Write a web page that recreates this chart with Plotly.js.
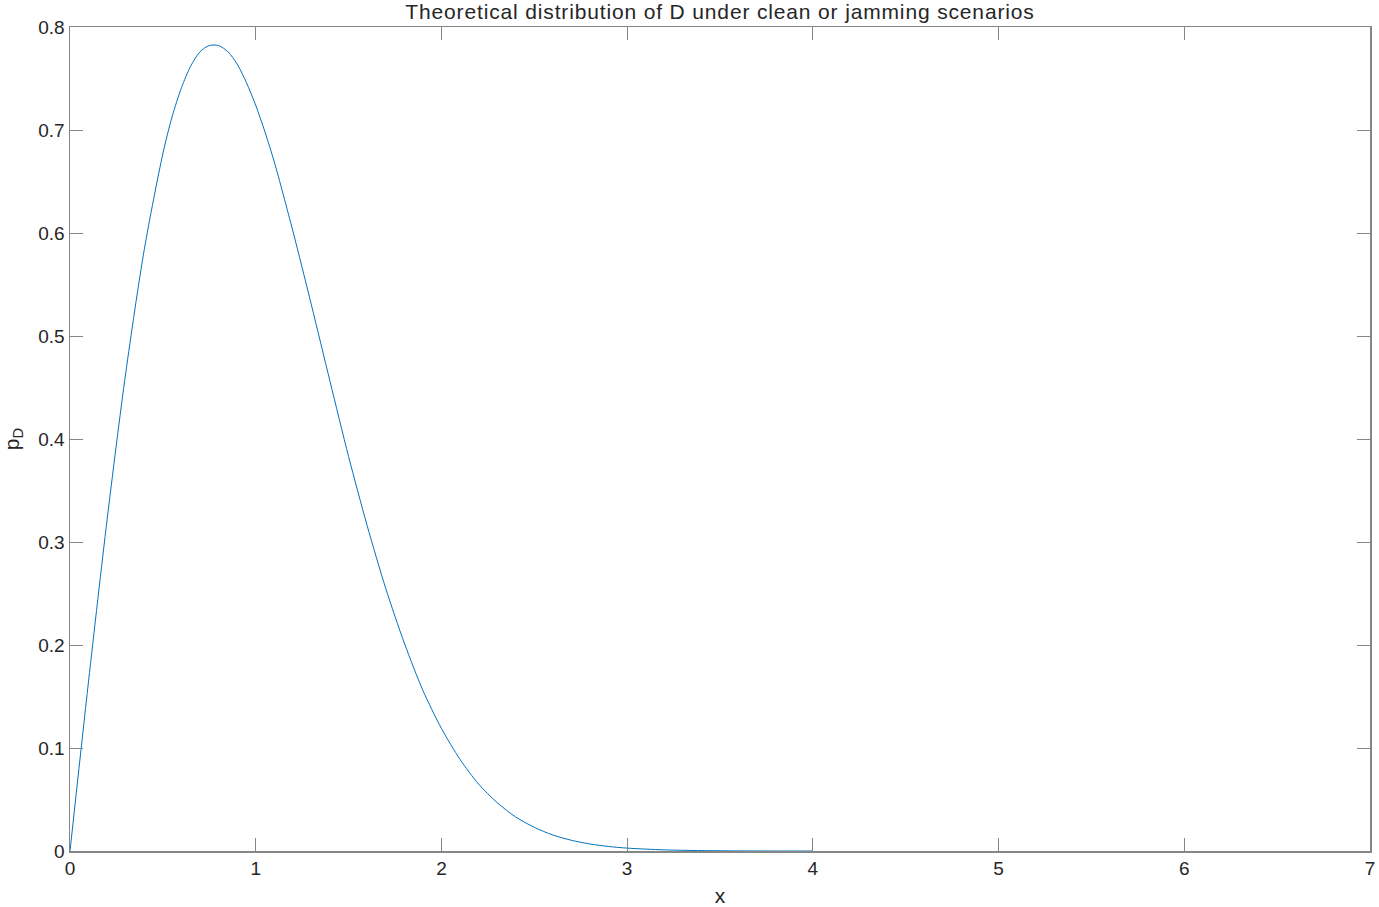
<!DOCTYPE html>
<html>
<head>
<meta charset="utf-8">
<script src="https://cdn.plot.ly/plotly-3.0.1.min.js"></script>
<style>html,body{margin:0;padding:0;background:#fff;}#chart{width:1379px;height:907px;}
.gtitle{letter-spacing:0.85px;}
</style>
</head>
<body>
<div id="chart"></div>
<script>
const xValues = [0, 0.1, 0.2, 0.3, 0.4, 0.5, 0.55, 0.6, 0.65, 0.7, 0.75, 0.8, 0.85, 0.9, 0.95, 1.0, 1.05, 1.1, 1.2, 1.3, 1.4, 1.5, 1.6, 1.7, 1.8, 1.9, 2.0, 2.1, 2.2, 2.3, 2.4, 2.5, 2.6, 2.7, 2.8, 2.9, 3.0, 3.2, 3.4, 3.6, 3.8, 4.0];
const pdValues = [0, 0.165, 0.322, 0.464, 0.584, 0.677, 0.713, 0.741, 0.762, 0.776, 0.782, 0.782, 0.776, 0.764, 0.746, 0.724, 0.698, 0.669, 0.602, 0.530, 0.456, 0.383, 0.316, 0.255, 0.202, 0.156, 0.119, 0.089, 0.065, 0.047, 0.033, 0.023, 0.0155, 0.0104, 0.0068, 0.0044, 0.0028, 0.0011, 0.0004, 0.0001, 0, 0];
const xTicks = [0, 1, 2, 3, 4, 5, 6, 7];
const yTicks = [0, 0.1, 0.2, 0.3, 0.4, 0.5, 0.6, 0.7, 0.8];

const axisColor = '#868686';
const font = {family: 'Liberation Sans, Arial, sans-serif', size: 19, color: '#262626'};

const trace = {
  x: xValues, y: pdValues, type: 'scatter', mode: 'lines',
  line: {color: '#0072BD', width: 1, shape: 'spline', smoothing: 0.8},
  hoverinfo: 'skip'
};

const layout = {
  width: 1379, height: 907,
  margin: {l: 70, r: 9, t: 27, b: 56},
  paper_bgcolor: '#fff', plot_bgcolor: '#fff',
  font: font,
  showlegend: false,
  title: {text: 'Theoretical distribution of D under clean or jamming scenarios', font: {family: font.family, size: 21, color: '#262626'}, xref: 'paper', x: 0.5, xanchor: 'center', yref: 'container', y: 0.987, yanchor: 'middle'},
  xaxis: {
    range: [0, 7], tickvals: xTicks, ticktext: xTicks.map(String),
    showgrid: false, zeroline: false, showline: true, linecolor: axisColor, linewidth: 1.5, mirror: 'ticks',
    ticks: 'inside', ticklen: 13, tickwidth: 1, tickcolor: axisColor,
    tickfont: font,
    title: {text: 'x', font: {family: font.family, size: 21, color: '#262626'}, standoff: 12}
  },
  yaxis: {
    range: [0, 0.8], tickvals: yTicks, ticktext: yTicks.map(String),
    showgrid: false, zeroline: false, showline: true, linecolor: axisColor, linewidth: 1.5, mirror: 'ticks',
    ticks: 'inside', ticklen: 13, tickwidth: 1, tickcolor: axisColor,
    tickfont: font,
    title: {text: 'p<sub>D</sub>', font: {family: font.family, size: 21, color: '#262626'}, standoff: 14}
  }
};

Plotly.newPlot('chart', [trace], layout, {displayModeBar: false, staticPlot: true});
</script>
</body>
</html>
